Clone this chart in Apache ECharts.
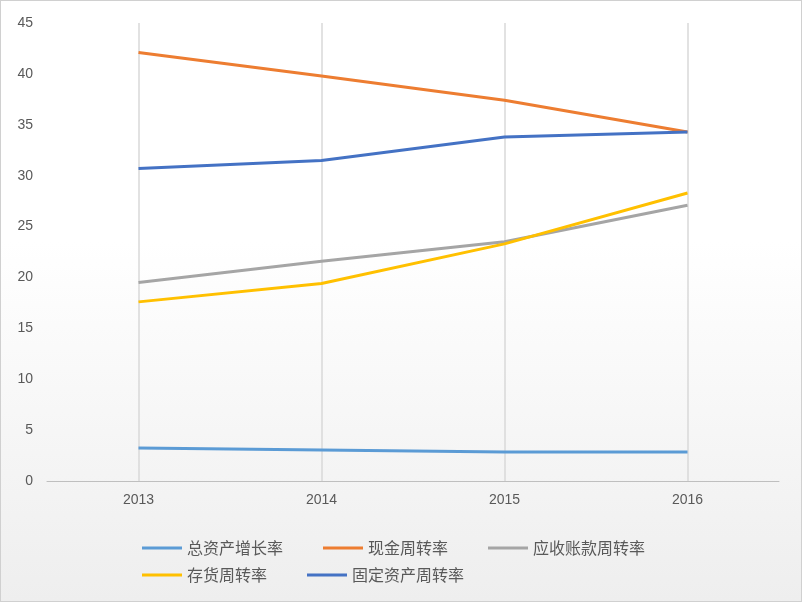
<!DOCTYPE html><html><head><meta charset="utf-8"><script src="https://cdn.jsdelivr.net/npm/echarts@6/dist/echarts.min.js"></script>
<style>html,body{margin:0;padding:0}#c{width:800px;height:600px;border:1px solid #d0d0d0;background:linear-gradient(#fff 40%,#eeeeee)}</style></head><body><div id="c"></div><script>
const categories=['2013','2014','2015','2016'];
const zzc=[3.24,3.05,2.85,2.85];
const xj=[42.1,39.8,37.4,34.3];
const ys=[19.5,21.6,23.5,27.1];
const ch=[17.6,19.4,23.3,28.3];
const gd=[30.7,31.5,33.8,34.3];
const names=['总资产增长率','现金周转率','应收账款周转率','存货周转率','固定资产周转率'];
const colors=['#5B9BD5','#ED7D31','#A5A5A5','#FFC000','#4472C4'];
const datas=[zzc,xj,ys,ch,gd];
const chart=echarts.init(document.getElementById('c'));
const series=datas.map((d,i)=>({name:names[i],type:'line',data:d,symbol:'none',lineStyle:{width:3,color:colors[i]},itemStyle:{color:colors[i]},z:3}));
series[0].markLine={silent:true,symbol:'none',label:{show:false},lineStyle:{color:'#d9d9d9',type:'solid',width:1.5},data:categories.map(c=>({xAxis:c}))};
series[0].markLine.z=1;
const leg={icon:'rect',itemWidth:40,itemHeight:3,itemGap:40,textStyle:{fontSize:16,width:95,color:'#595959',fontFamily:'Noto Sans CJK SC'}};
chart.setOption({
 textStyle:{fontFamily:'Noto Sans CJK SC'},
 grid:{left:46,right:22,top:22,bottom:120},
 legend:[Object.assign({data:names.slice(0,3),left:136,top:534},leg),Object.assign({data:names.slice(3),left:136,top:561},leg)],
 xAxis:{type:'category',data:categories,axisLine:{lineStyle:{color:'#bfbfbf'}},axisTick:{show:false},axisLabel:{color:'#595959',fontSize:14,margin:12,fontFamily:'Liberation Sans'}},
 yAxis:{type:'value',min:0,max:45,interval:5,axisLine:{show:false},axisTick:{show:false},splitLine:{show:false},axisLabel:{color:'#595959',fontSize:14,margin:14,fontFamily:'Liberation Sans'}},
 series
});
</script></body></html>
